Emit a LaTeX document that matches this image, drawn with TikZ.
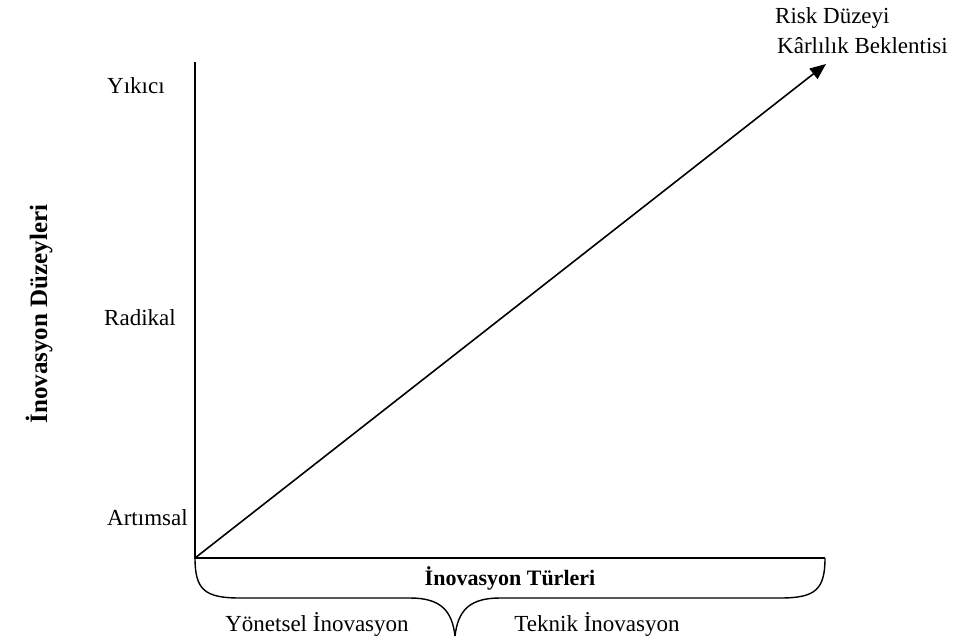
\documentclass[tikz,border=0pt]{standalone}
\usepackage{fontspec}
\setmainfont{Liberation Serif}
\usetikzlibrary{arrows.meta}
\begin{document}
\begin{tikzpicture}[x=1pt,y=-1pt,
  axis/.style={line width=1.6pt},
  lbl/.style={font=\fontsize{23}{26}\selectfont, inner sep=0pt},
  boldlbl/.style={font=\fontsize{22}{26}\selectfont\bfseries, inner sep=0pt}]
\useasboundingbox (0,0) rectangle (968,640);
% axes
\coordinate (O) at (195,558);
\coordinate (ytop) at (195,62);
\coordinate (xend) at (825,558);
\coordinate (tip) at (826,64);
\draw[axis] (ytop) -- (O) -- (xend);
\draw[axis,-{Triangle[length=16pt,width=13pt]}] (O) -- (tip);
% brace under the horizontal axis
\coordinate (cusp) at (455,636);
\draw[line width=1.4pt] (O) .. controls (195,590) and (205,598) .. (240,598)
  -- (410,598) .. controls (440,598) and (452,610) .. (cusp);
\draw[line width=1.4pt] (xend) .. controls (825,590) and (815,598) .. (780,598)
  -- (500,598) .. controls (470,598) and (458,610) .. (cusp);
% level labels
\node[lbl,anchor=west] (yikici) at (107,86) {Yıkıcı};
\node[lbl,anchor=west] (radikal) at (104,318) {Radikal};
\node[lbl,anchor=west] (artimsal) at (107,518) {Artımsal};
\node[boldlbl,rotate=90,font=\fontsize{25}{28}\selectfont\bfseries] (duzey) at (39,314) {İnovasyon Düzeyleri};
% type labels
\node[boldlbl] (turler) at (510,578) {İnovasyon Türleri};
\node[lbl] (yonetsel) at (317,624) {Yönetsel İnovasyon};
\node[lbl] (teknik) at (597,624) {Teknik İnovasyon};
% arrow head labels
\node[lbl,anchor=west] (risk) at (775,18) {Risk Düzeyi};
\node[lbl,anchor=west] (karlilik) at (777,46) {Kârlılık Beklentisi};
\end{tikzpicture}
\end{document}
